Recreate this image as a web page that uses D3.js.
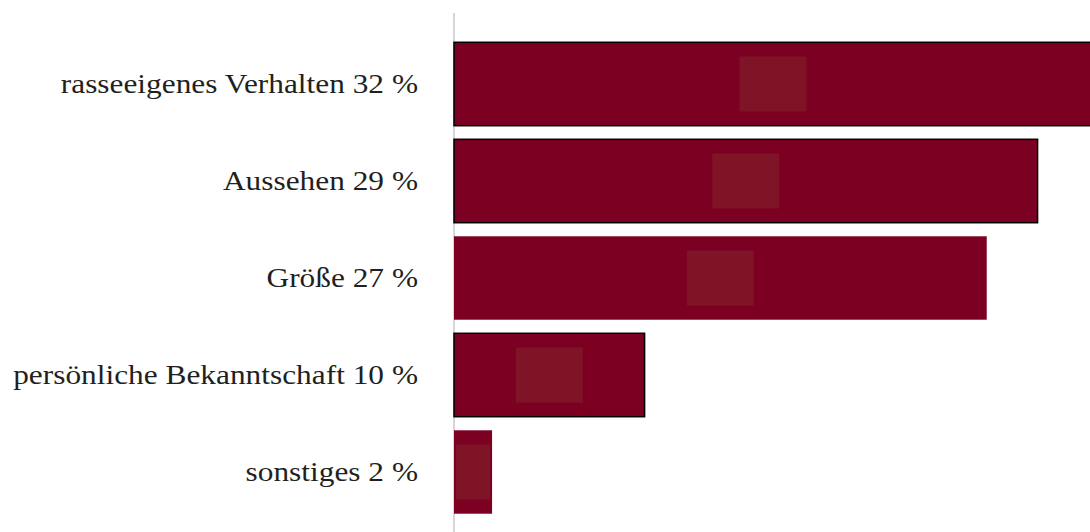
<!DOCTYPE html>
<html>
<head>
<meta charset="utf-8">
<script src="https://cdn.jsdelivr.net/npm/d3@7"></script>
<style>
  html, body { margin: 0; padding: 0; background: #fff; }
  svg { display: block; }
</style>
</head>
<body>
<svg id="chart" width="1090" height="532"></svg>
<script>
const categories = ["rasseeigenes Verhalten", "Aussehen", "Größe", "persönliche Bekanntschaft", "sonstiges"];
const percentLabels = ["32 %", "29 %", "27 %", "10 %", "2 %"];
const values = [32.0, 29.27, 26.72, 9.56, 1.91];

const W = 1090, H = 532;
const svg = d3.select("#chart");

const x = d3.scaleLinear().domain([0, 32]).range([454, 1092]);
const y = d3.scaleBand().domain(categories).range([35.5, 520.5]).paddingInner(0.14).paddingOuter(0.07);

const outlined = new Set([0, 1, 3]);
const barColor = "#7b0022";
const boxColor = "#7e1426";
const labelX = 418;

// axis line
svg.append("line")
  .attr("x1", x(0)).attr("x2", x(0))
  .attr("y1", 13).attr("y2", H)
  .attr("stroke", "#c8c8c8").attr("stroke-width", 1.5);

const g = svg.append("g");
categories.forEach((c, i) => {
  const bx = x(0), bw = x(values[i]) - x(0);
  const by = y(c), bh = y.bandwidth();
  g.append("rect")
    .attr("x", bx).attr("y", by).attr("width", bw).attr("height", bh)
    .attr("fill", barColor)
    .attr("stroke", outlined.has(i) ? "#000" : "none")
    .attr("stroke-width", 1.5);
  const sw = Math.min(67, bw - 4), sh = 55;
  g.append("rect")
    .attr("x", bx + bw / 2 - sw / 2).attr("y", by + bh / 2 - sh / 2)
    .attr("width", sw).attr("height", sh)
    .attr("fill", boxColor);
  svg.append("g")
    .attr("transform", `translate(${labelX},${by + bh / 2}) scale(1.12,1)`)
    .append("text")
    .attr("x", 0).attr("y", 0)
    .attr("text-anchor", "end").attr("dominant-baseline", "central")
    .attr("font-family", "'Liberation Serif', 'DejaVu Serif', serif")
    .attr("font-size", 28)
    .attr("fill", "#231f20")
    .text(c + " " + percentLabels[i]);
});
</script>
</body>
</html>
